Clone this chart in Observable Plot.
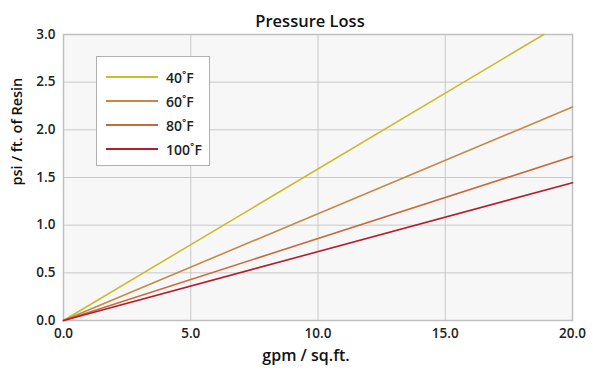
<!DOCTYPE html>
<html><head><meta charset="utf-8">
<script src="https://cdn.jsdelivr.net/npm/d3@7"></script>
<script src="https://cdn.jsdelivr.net/npm/@observablehq/plot@0.6"></script>
<style>
body{margin:0;background:#fff;font-family:"Open Sans",sans-serif;}
#wrap{position:relative;width:593px;height:372px;}
#legend{position:absolute;left:96px;top:56px;width:114px;height:110px;border:1.5px solid #b0b0b0;background:#fff;box-sizing:border-box;padding-top:8px;}
.row{display:flex;align-items:center;height:24px;}
.row .ln{width:52px;height:2px;margin-left:9px;margin-right:8px;}
.row span{font-size:14px;font-weight:600;color:#222;}
</style></head>
<body><div id="wrap"></div>
<script>
const series = ["40˚F","60˚F","80˚F","100˚F"];
const colors = ["#c9bd2e","#c48a45","#c8693a","#b51c2c"];
const flowStart = [0,0,0,0];
const flowEnd = [18.87,20,20,20];
const lossEnd = [3.0,2.24,1.72,1.445];
const xTicks = [0,5,10,15,20];
const yTicks = [0,0.5,1,1.5,2,2.5,3];

const data = [];
series.forEach((s,i)=>{
  data.push({s, x:flowStart[i], y:0});
  data.push({s, x:flowEnd[i], y:lossEnd[i]});
});

const chart = Plot.plot({
  width:593, height:372,
  marginLeft:63, marginRight:21, marginTop:34, marginBottom:52,
  style:{fontFamily:"Open Sans, sans-serif", fontSize:"13.5px", fontWeight:600, color:"#222", background:"#fff"},
  x:{domain:[0,20], ticks:xTicks, tickFormat:d3.format(".1f"), label:null},
  y:{domain:[0,3], ticks:yTicks, tickFormat:d3.format(".1f"), label:null},
  color:{domain:series, range:colors},
  marks:[
    Plot.frame({fill:"#f7f7f7"}),
    Plot.gridX(xTicks,{stroke:"#c8c8c8", strokeOpacity:1}),
    Plot.gridY(yTicks,{stroke:"#c8c8c8", strokeOpacity:1}),
    Plot.frame({stroke:"#c0c0c0", strokeWidth:1.5}),
    Plot.axisX(xTicks,{tickSize:0, tickPadding:8, tickFormat:d3.format(".1f"), fontSize:13.5, fontWeight:600}),
    Plot.axisY(yTicks,{tickSize:0, tickPadding:8, tickFormat:d3.format(".1f"), fontSize:13.5, fontWeight:600}),
    Plot.line(data,{x:"x", y:"y", z:"s", stroke:"s", strokeWidth:1.6}),
    Plot.text(["Pressure Loss"],{frameAnchor:"top", dx:-8, dy:-19, fontSize:16.5, fontWeight:600, fill:"#111"}),
    Plot.text(["gpm / sq.ft."],{frameAnchor:"bottom", dx:-12, dy:40, fontSize:16, fontWeight:600, fill:"#111"}),
    Plot.text(["psi / ft. of Resin"],{frameAnchor:"left", dx:-46, dy:8, rotate:-90, fontSize:14.5, fontWeight:600, fill:"#111"})
  ]
});
const wrap = document.getElementById("wrap");
wrap.appendChild(chart);
const lg = document.createElement("div");
lg.id="legend";
series.forEach((s,i)=>{
  const r=document.createElement("div");r.className="row";
  const l=document.createElement("div");l.className="ln";l.style.background=colors[i];
  const t=document.createElement("span");t.textContent=s;
  r.appendChild(l);r.appendChild(t);lg.appendChild(r);
});
wrap.appendChild(lg);
</script></body></html>
